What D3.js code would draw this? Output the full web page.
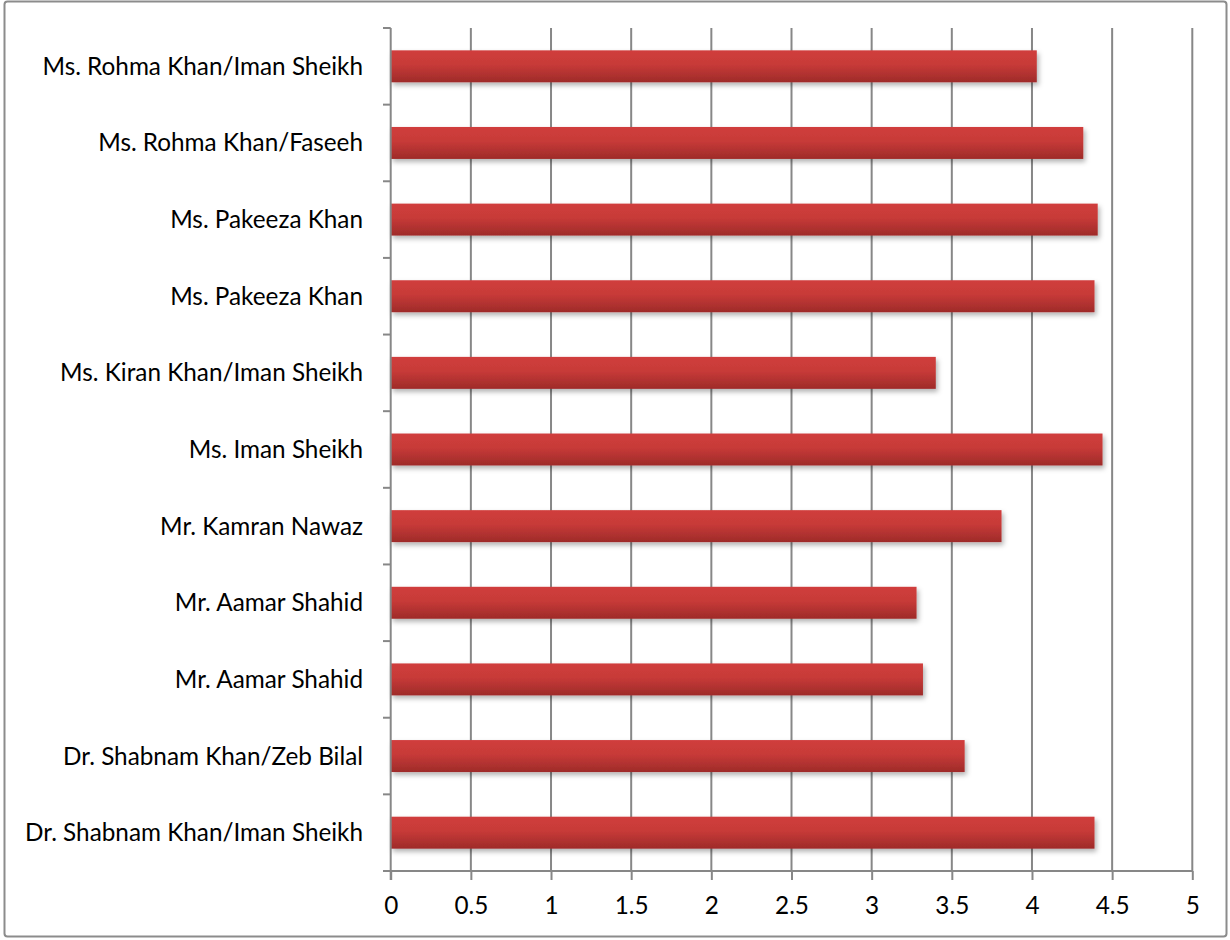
<!DOCTYPE html>
<html><head><meta charset="utf-8">
<script src="https://cdn.jsdelivr.net/npm/d3@7"></script>
<style>body{margin:0;background:#fff}svg{display:block}</style>
</head><body>
<script>
const categories = ["Dr. Shabnam Khan/Iman Sheikh","Dr. Shabnam Khan/Zeb Bilal","Mr. Aamar Shahid","Mr. Aamar Shahid","Mr. Kamran Nawaz","Ms. Iman Sheikh","Ms. Kiran Khan/Iman Sheikh","Ms. Pakeeza Khan","Ms. Pakeeza Khan","Ms. Rohma Khan/Faseeh","Ms. Rohma Khan/Iman Sheikh"];
const values = [4.39, 3.58, 3.32, 3.28, 3.81, 4.44, 3.40, 4.39, 4.41, 4.32, 4.03];
const xTicks = [0,0.5,1,1.5,2,2.5,3,3.5,4,4.5,5];

const W=1230,H=940;
const svg=d3.select("body").append("svg").attr("width",W).attr("height",H);
const defs=svg.append("defs");
const g1=defs.append("linearGradient").attr("id","bar").attr("x1",0).attr("y1",0).attr("x2",0).attr("y2",1);
g1.append("stop").attr("offset","0%").attr("stop-color","#d03e3c");
g1.append("stop").attr("offset","45%").attr("stop-color","#c73a38");
g1.append("stop").attr("offset","100%").attr("stop-color","#9e2b29");
const f=defs.append("filter").attr("id","sh").attr("x","-5%").attr("y","-30%").attr("width","115%").attr("height","190%");
f.append("feDropShadow").attr("dx",2).attr("dy",3).attr("stdDeviation",2.5).attr("flood-color","#000").attr("flood-opacity",0.3);

svg.append("rect").attr("x",4.5).attr("y",1.5).attr("width",1222).attr("height",935).attr("rx",3)
  .attr("fill","#fff").attr("stroke","#8c8c8c").attr("stroke-width",2);

const x=d3.scaleLinear().domain([0,5]).range([390.7,1192.3]);
const idx=d3.range(categories.length);
const y=d3.scaleBand().domain(idx).range([871,28]).paddingInner(0.583).paddingOuter(0.2915);

const font="Lato, 'Open Sans', sans-serif";
const fs=24.3;
// gridlines
svg.append("g").selectAll("line").data(xTicks.slice(1)).join("line")
  .attr("x1",d=>x(d)).attr("x2",d=>x(d)).attr("y1",28).attr("y2",871)
  .attr("stroke","#878787").attr("stroke-width",2);

// bars
svg.append("g").selectAll("rect").data(idx).join("rect")
  .attr("x",x(0)).attr("y",i=>y(i)).attr("width",i=>x(values[i])-x(0)).attr("height",y.bandwidth())
  .attr("fill","url(#bar)").attr("filter","url(#sh)");

// x axis
const xa=svg.append("g").attr("transform","translate(0,871)")
  .call(d3.axisBottom(x).tickValues(xTicks).tickFormat(d=>String(d)).tickSize(9).tickSizeOuter(0).tickPadding(17));
xa.select(".domain").attr("stroke","#878787").attr("stroke-width",2).attr("d","M383,0H"+x(5));
xa.selectAll(".tick line").attr("stroke","#878787").attr("stroke-width",2);
xa.selectAll("text").attr("font-family",font).attr("font-size",fs).attr("fill","#000");

// y axis
const yEdges=d3.range(categories.length+1).map(k=>871-k*(843/categories.length));
const ya=svg.append("g");
ya.append("line").attr("x1",x(0)).attr("x2",x(0)).attr("y1",28).attr("y2",880).attr("stroke","#878787").attr("stroke-width",2);
ya.selectAll(".t").data(yEdges).join("line").attr("class","t")
  .attr("x1",383).attr("x2",x(0)).attr("y1",d=>d).attr("y2",d=>d).attr("stroke","#878787").attr("stroke-width",2);
ya.selectAll("text").data(idx).join("text")
  .attr("x",363).attr("y",i=>y(i)+y.bandwidth()/2).attr("dy","0.35em").attr("text-anchor","end")
  .attr("font-family",font).attr("font-size",fs).attr("fill","#000").text(i=>categories[i]);
</script>
</body></html>
